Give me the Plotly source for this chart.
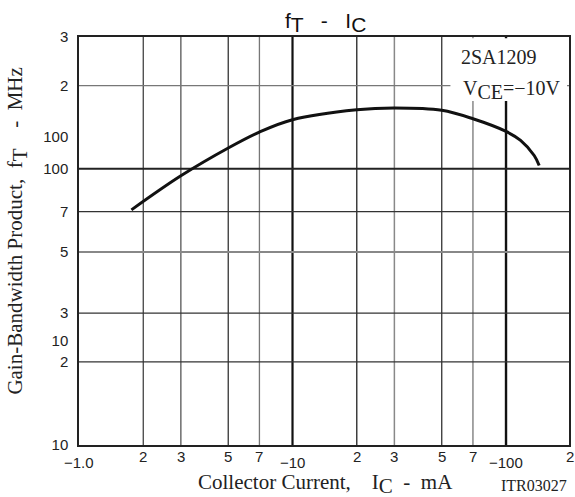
import numpy as np
import plotly.graph_objects as go

# ---- data ----
ic_ma = [1.76, 3, 5, 7, 10, 20, 30, 50, 70, 100, 117, 135.5, 143]
ft_mhz = [71.0, 94.3, 118.9, 135.8, 150.5, 163.5, 166.0, 162.8, 151.7, 136.5, 126.7, 111.7, 102.8]

x_ticks = [1, 2, 3, 5, 7, 10, 20, 30, 50, 70, 100, 200]
x_ticktext = ["\u22121.0", "2", "3", "5", "7", "\u221210", "2", "3", "5", "7", "\u2212100", "2"]
x_decades = [1, 10, 100]

y_ticks = [10, 20, 23.8, 30, 50, 70, 100, 130.6, 200, 300]
y_ticktext = ["10", "2", "10", "3", "5", "7", "100", "100", "2", "3"]

x_grid = [2, 3, 5, 7, 10, 20, 30, 50, 70, 100]
y_grid = [20, 30, 50, 70, 100, 200]

# ---- styles ----
x_grid_style = {2: ("#444", 1.3), 3: ("#555", 1.3), 5: ("#333", 1.3), 7: ("#777", 1.3),
                10: ("#111", 2.2), 20: ("#222", 1.3), 30: ("#888", 1.5), 50: ("#333", 1.3),
                70: ("#888", 1.5), 100: ("#111", 2.4)}
y_grid_style = {20: ("#333", 1.3), 30: ("#333", 1.3), 50: ("#888", 2.0), 70: ("#333", 1.3),
                100: ("#222", 2.0), 200: ("#777", 1.3)}

SANS = "Liberation Sans, Arial, sans-serif"
SERIF = "Liberation Serif, Times New Roman, serif"
X_LOG_MAX = 2.295

fig = go.Figure()
fig.add_trace(go.Scatter(x=ic_ma, y=ft_mhz, mode="lines",
                         line=dict(color="#111", width=3, shape="spline", smoothing=1.0),
                         showlegend=False, hoverinfo="skip"))

shapes = []
for v in x_grid:
    c, w = x_grid_style[v]
    shapes.append(dict(type="line", xref="x", yref="paper", x0=v, x1=v, y0=0, y1=1,
                       line=dict(color=c, width=w), layer="between"))
for v in y_grid:
    c, w = y_grid_style[v]
    shapes.append(dict(type="line", xref="paper", yref="y", x0=0, x1=1, y0=v, y1=v,
                       line=dict(color=c, width=w), layer="between"))
# white box behind the device label
shapes.append(dict(type="rect", xref="paper", yref="paper", x0=0.758, x1=0.996, y0=0.843, y1=0.997,
                   fillcolor="white", line=dict(width=0), layer="between"))

annotations = []
for v, t in zip(x_ticks, x_ticktext):
    annotations.append(dict(x=np.log10(v) / X_LOG_MAX, xref="paper", y=0, yref="paper", text=t,
                            showarrow=False, xanchor="center", yanchor="middle",
                            yshift=-17 if v in x_decades else -11,
                            font=dict(family=SANS, size=15, color="#222")))

full = "<span style='font-size:{s}px'>{t}</span>"
annotations += [
    dict(x=0.504, xref="paper", y=1, yref="paper", yanchor="middle", yshift=15, showarrow=False,
         text="f<sub>" + full.format(s=21, t="T") + "</sub>   -   I<sub>" + full.format(s=21, t="C") + "</sub>",
         font=dict(family=SANS, size=21, color="#111")),
    dict(x=0.504, xref="paper", y=0, yref="paper", yanchor="middle", yshift=-39, showarrow=False,
         text="Collector Current,    I<sub>" + full.format(s=21, t="C") + "</sub>  -  mA",
         font=dict(family=SERIF, size=21, color="#222")),
    dict(x=0, xref="paper", y=0.523, yref="paper", xanchor="center", xshift=-62, showarrow=False,
         textangle=-90,
         text="Gain-Bandwidth Product,  f<sub>" + full.format(s=21, t="T") + "</sub>    -  MHz",
         font=dict(family=SERIF, size=21, color="#222")),
    dict(x=1, xref="paper", y=0, yref="paper", xanchor="right", yanchor="middle", yshift=-40,
         showarrow=False, text="ITR03027", font=dict(family=SERIF, size=16, color="#222")),
    dict(x=0.775, xref="paper", y=1, yref="paper", xanchor="left", yanchor="middle", yshift=-20,
         showarrow=False, text="2SA1209", font=dict(family=SERIF, size=20, color="#222")),
    dict(x=0.779, xref="paper", y=1, yref="paper", xanchor="left", yanchor="middle", yshift=-53,
         showarrow=False, text="V<sub>" + full.format(s=20, t="CE") + "</sub>=\u221210V",
         font=dict(family=SERIF, size=20, color="#222")),
]

fig.update_layout(
    width=575, height=497,
    margin=dict(l=79, r=4, t=37, b=52),
    paper_bgcolor="white", plot_bgcolor="white",
    shapes=shapes, annotations=annotations,
    xaxis=dict(type="log", range=[0, X_LOG_MAX], showgrid=False, zeroline=False,
               showticklabels=False, ticks="", showline=True, mirror=True,
               linecolor="#222", linewidth=1.5),
    yaxis=dict(type="log", range=[1, np.log10(300)], showgrid=False, zeroline=False,
               tickvals=y_ticks, ticktext=y_ticktext, ticks="", ticklabelstandoff=6,
               tickfont=dict(family=SANS, size=15, color="#222"),
               showline=True, mirror=True, linecolor="#222", linewidth=1.5),
)

fig.write_html("out.html")
